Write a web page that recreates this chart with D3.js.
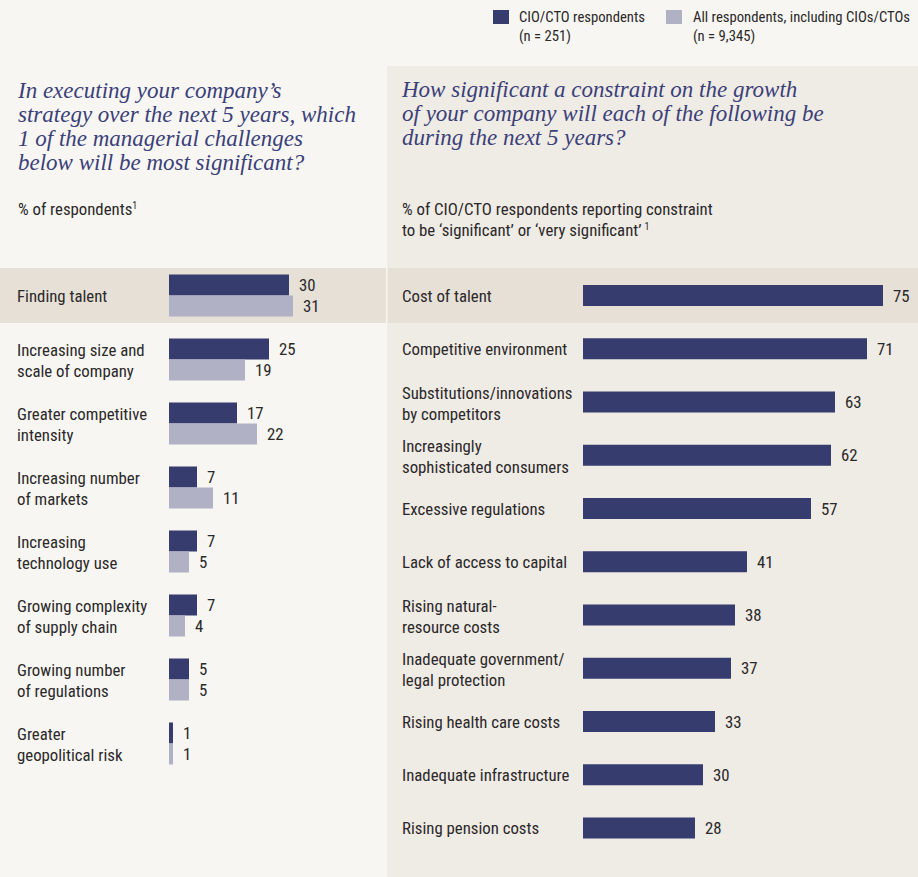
<!DOCTYPE html>
<html>
<head>
<meta charset="utf-8">
<title>Managerial challenges and growth constraints</title>
<script src="https://cdn.jsdelivr.net/npm/d3@7"></script>
<style>
  body { margin: 0; background: #f7f6f2; }
  svg { display: block; }
  .lbl { font-family: "Liberation Sans Narrow", "Roboto Condensed", "Arial Narrow", sans-serif; font-size: 16.8px; fill: #2b2829; }
  .ttl { font-family: "Liberation Serif", "DejaVu Serif", serif; font-style: italic; font-size: 23px; fill: #3b4079; }
</style>
</head>
<body>
<svg width="918" height="877"></svg>
<script>
// left: which managerial challenge is most significant (% of respondents)
var leftCats = ["Finding talent", "Increasing size and\nscale of company", "Greater competitive\nintensity",
  "Increasing number\nof markets", "Increasing\ntechnology use", "Growing complexity\nof supply chain",
  "Growing number\nof regulations", "Greater\ngeopolitical risk"]
var cioValues = [30, 25, 17, 7, 7, 7, 5, 1]
var allValues = [31, 19, 22, 11, 5, 4, 5, 1]

// right: constraint on growth, % of CIO/CTO saying significant or very significant
var rightCats = ["Cost of talent", "Competitive environment", "Substitutions/innovations\nby competitors",
  "Increasingly\nsophisticated consumers", "Excessive regulations", "Lack of access to capital",
  "Rising natural-\nresource costs", "Inadequate government/\nlegal protection", "Rising health care costs",
  "Inadequate infrastructure", "Rising pension costs"]
var rightValues = [75, 71, 63, 62, 57, 41, 38, 37, 33, 30, 28]

var seriesNames = ["CIO/CTO respondents\n(n = 251)", "All respondents, including CIOs/CTOs\n(n = 9,345)"]

var dark = "#373c6e", light = "#b0b1c5"
var svg = d3.select("svg")

// backgrounds
svg.append("rect").attr("x", 387).attr("y", 66).attr("width", 531).attr("height", 811).attr("fill", "#efebe5")
svg.append("rect").attr("x", 0).attr("y", 268).attr("width", 386).attr("height", 55).attr("fill", "#e7e0d7")
svg.append("rect").attr("x", 388).attr("y", 268).attr("width", 530).attr("height", 55).attr("fill", "#e7e0d7")

function multiline(sel, txt, x, cy) {
  var lines = txt.split("\n")
  var t = sel.append("text").attr("class", "lbl").attr("x", x)
  lines.forEach(function (l, i) {
    var y = lines.length == 1 ? cy + 6 : cy - 3.5 + i * 21
    t.append("tspan").attr("x", x).attr("y", y).text(l)
  })
}

// legend
var lg = svg.append("g")
;[[493, 519, dark], [666, 693, light]].forEach(function (d, i) {
  lg.append("rect").attr("x", d[0]).attr("y", 10).attr("width", 16).attr("height", 14).attr("fill", d[2])
  var t = lg.append("text").attr("class", "lbl").style("font-size", "14.7px")
  seriesNames[i].split("\n").forEach(function (l, j) {
    t.append("tspan").attr("x", d[1]).attr("y", 22 + j * 19).text(l)
  })
})

// titles
function title(lines, x, y0) {
  var t = svg.append("text").attr("class", "ttl")
  lines.forEach(function (l, i) { t.append("tspan").attr("x", x).attr("y", y0 + i * 24).text(l) })
}
title(["In executing your company\u2019s", "strategy over the next 5 years, which",
  "1 of the managerial challenges", "below will be most significant?"], 18, 98)
title(["How significant a constraint on the growth", "of your company will each of the following be",
  "during the next 5 years?"], 402, 97)

var s1 = svg.append("text").attr("class", "lbl").attr("x", 18).attr("y", 215).text("% of respondents")
s1.append("tspan").attr("dy", -6).style("font-size", "10px").text("1")
var s2 = svg.append("text").attr("class", "lbl")
s2.append("tspan").attr("x", 402).attr("y", 215).text("% of CIO/CTO respondents reporting constraint")
s2.append("tspan").attr("x", 402).attr("y", 236).text("to be \u2018significant\u2019 or \u2018very significant\u2019")
s2.append("tspan").attr("dy", -6).attr("dx", 3).style("font-size", "10px").text("1")

var x = d3.scaleLinear().domain([0, 75]).range([0, 300])

// left chart
var yL = d3.scalePoint().domain(leftCats).range([295.5, 743.5])
var bh = 21, lx0 = 169
var gL = svg.append("g")
leftCats.forEach(function (c, i) {
  var cy = yL(c)
  multiline(gL, c, 17, cy)
  gL.append("rect").attr("x", lx0).attr("y", cy - bh).attr("width", x(cioValues[i])).attr("height", bh).attr("fill", dark)
  gL.append("rect").attr("x", lx0).attr("y", cy).attr("width", x(allValues[i])).attr("height", bh).attr("fill", light)
  gL.append("text").attr("class", "lbl").attr("x", lx0 + x(cioValues[i]) + 10).attr("y", cy - bh / 2 + 6).text(cioValues[i])
  gL.append("text").attr("class", "lbl").attr("x", lx0 + x(allValues[i]) + 10).attr("y", cy + bh / 2 + 6).text(allValues[i])
})

// right chart
var yR = d3.scalePoint().domain(rightCats).range([295.5, 828])
var rx0 = 583
var gR = svg.append("g")
rightCats.forEach(function (c, i) {
  var cy = yR(c)
  multiline(gR, c, 402, cy)
  gR.append("rect").attr("x", rx0).attr("y", cy - bh / 2).attr("width", x(rightValues[i])).attr("height", bh).attr("fill", dark)
  gR.append("text").attr("class", "lbl").attr("x", rx0 + x(rightValues[i]) + 10).attr("y", cy + 6).text(rightValues[i])
})
</script>
</body>
</html>
